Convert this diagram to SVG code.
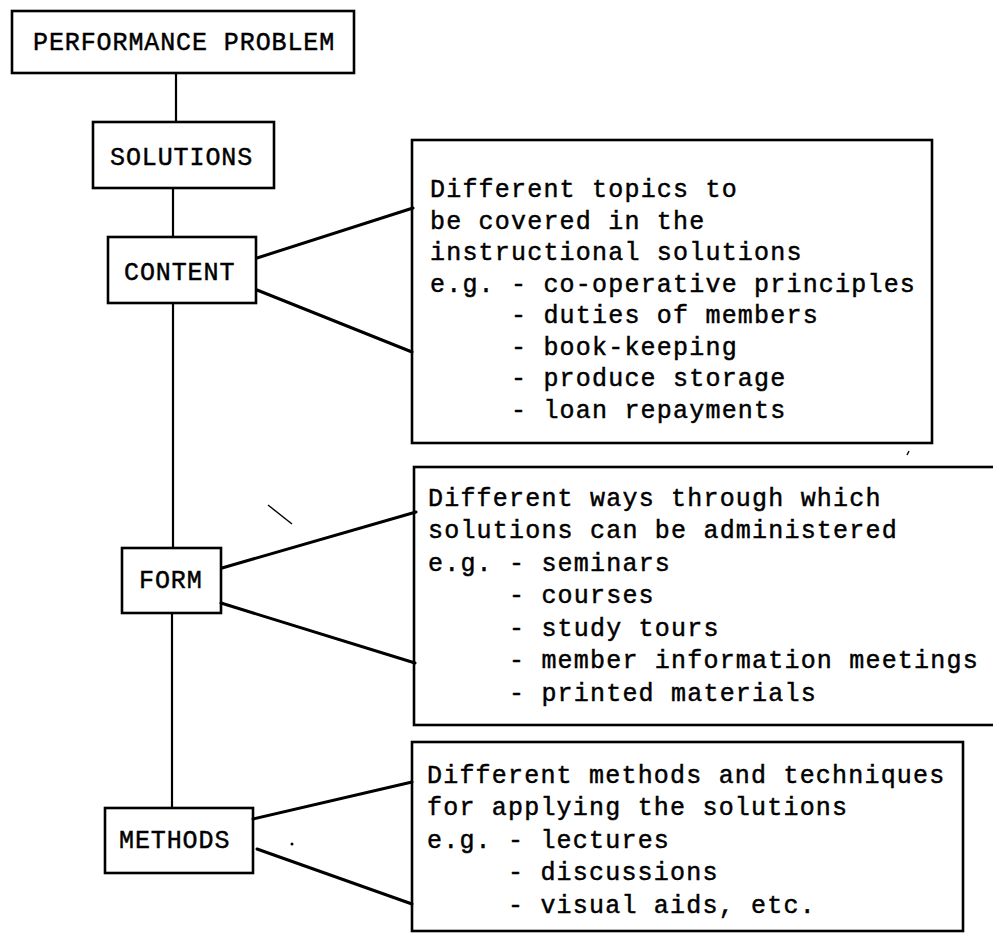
<svg xmlns="http://www.w3.org/2000/svg" width="993" height="939" viewBox="0 0 993 939">
<style>
  .box { fill: none; stroke: #000; stroke-width: 2.6; }
  .lbl { font-family: "Liberation Mono", "DejaVu Sans Mono", monospace; font-size: 25px; letter-spacing: 0.9px; fill: #000; stroke: #000; stroke-width: 0.45; }
  .txt { font-family: "Liberation Mono", "DejaVu Sans Mono", monospace; font-size: 25px; letter-spacing: 1.2px; fill: #000; stroke: #000; stroke-width: 0.45; }
  .vline { stroke: #000; stroke-width: 2.2; fill: none; }
  .dline { stroke: #000; stroke-width: 3; fill: none; stroke-linecap: round; }
  .mark { stroke: #000; stroke-width: 1.4; fill: none; }
</style>
<rect width="993" height="939" fill="#fff"/>

<g id="connectors">
  <line class="vline" x1="176" y1="73" x2="176" y2="122"/>
  <line class="vline" x1="173" y1="188" x2="173" y2="237"/>
  <line class="vline" x1="173" y1="303" x2="173" y2="548"/>
  <line class="vline" x1="172" y1="613" x2="172" y2="808"/>
  <line class="dline" x1="257" y1="258" x2="413" y2="208"/>
  <line class="dline" x1="257" y1="290" x2="412" y2="352"/>
  <line class="dline" x1="222" y1="568" x2="416" y2="512"/>
  <line class="dline" x1="221" y1="603" x2="415" y2="663"/>
  <line class="dline" x1="253" y1="819" x2="412" y2="782"/>
  <line class="dline" x1="257" y1="849" x2="412" y2="904"/>
</g>

<g id="performance-problem">
  <rect class="box" x="12" y="11" width="342" height="62"/>
  <text class="lbl" x="33" y="50">PERFORMANCE PROBLEM</text>
</g>

<g id="solutions">
  <rect class="box" x="93" y="122" width="181" height="66"/>
  <text class="lbl" x="110" y="165">SOLUTIONS</text>
</g>

<g id="content">
  <rect class="box" x="108" y="237" width="148" height="66"/>
  <text class="lbl" x="124" y="280">CONTENT</text>
</g>

<g id="form">
  <rect class="box" x="122" y="548" width="99" height="65"/>
  <text class="lbl" x="139" y="588">FORM</text>
</g>

<g id="methods">
  <rect class="box" x="105" y="808" width="148" height="65"/>
  <text class="lbl" x="119" y="848">METHODS</text>
</g>

<g id="content-details">
  <rect class="box" x="412" y="140" width="520" height="303"/>
  <text class="txt" x="430" y="197">Different topics to</text>
  <text class="txt" x="430" y="229">be covered in the</text>
  <text class="txt" x="430" y="260">instructional solutions</text>
  <text class="txt" x="430" y="292">e.g. - co-operative principles</text>
  <text class="txt" x="511" y="323">- duties of members</text>
  <text class="txt" x="511" y="355">- book-keeping</text>
  <text class="txt" x="511" y="386">- produce storage</text>
  <text class="txt" x="511" y="418">- loan repayments</text>
</g>

<g id="form-details">
  <rect class="box" x="414" y="467" width="600" height="258"/>
  <text class="txt" x="428" y="506">Different ways through which</text>
  <text class="txt" x="428" y="538">solutions can be administered</text>
  <text class="txt" x="428" y="571">e.g. - seminars</text>
  <text class="txt" x="509" y="603">- courses</text>
  <text class="txt" x="509" y="636">- study tours</text>
  <text class="txt" x="509" y="668">- member information meetings</text>
  <text class="txt" x="509" y="701">- printed materials</text>
</g>

<g id="methods-details">
  <rect class="box" x="412" y="742" width="551" height="189"/>
  <text class="txt" x="427" y="783">Different methods and techniques</text>
  <text class="txt" x="427" y="815">for applying the solutions</text>
  <text class="txt" x="427" y="848">e.g. - lectures</text>
  <text class="txt" x="508" y="880">- discussions</text>
  <text class="txt" x="508" y="913">- visual aids, etc.</text>
</g>

<g id="marks">
  <line class="mark" x1="268" y1="505" x2="292" y2="524"/>
  <circle cx="292" cy="844" r="1.5" fill="#000"/>
  <line class="mark" x1="907" y1="455" x2="909" y2="451"/>
</g>
</svg>
